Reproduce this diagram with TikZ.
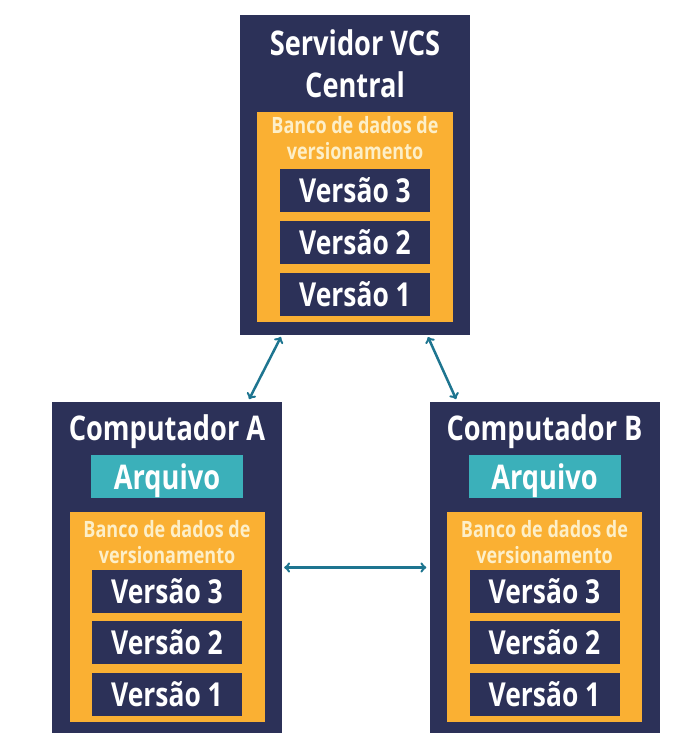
\documentclass[tikz,border=0pt]{standalone}
\usepackage{fontspec}
\setmainfont{Open Sans}[FakeStretch=0.8]
\usetikzlibrary{arrows}
\usetikzlibrary{positioning}
\definecolor{navy}{HTML}{2C3158}
\definecolor{amber}{HTML}{FAB033}
\definecolor{cream}{HTML}{FDEFC8}
\definecolor{arqteal}{HTML}{3BB0BA}
\definecolor{linkblue}{HTML}{1E7590}
\tikzset{machine/.style = {fill=navy, inner sep=0pt, minimum width=230pt}}
\tikzset{store/.style = {fill=amber, inner sep=0pt, minimum width=196pt, minimum height=210pt}}
\tikzset{version/.style = {fill=navy, text=white, inner sep=0pt, text depth=0pt,
                           minimum width=150pt, minimum height=43pt,
                           font=\bfseries\fontsize{33}{36}\selectfont}}
\tikzset{arquivo/.style = {fill=arqteal, text=white, inner sep=0pt, text depth=0pt,
                           minimum width=152pt, minimum height=43pt,
                           font=\bfseries\fontsize{34}{36}\selectfont}}
\tikzset{title/.style = {text=white, align=center, inner sep=0pt,
                         font=\bfseries\fontsize{34}{42}\selectfont}}
\tikzset{storetitle/.style = {text=cream, align=center, inner sep=0pt,
                              font=\bfseries\fontsize{22.5}{26}\selectfont}}
\tikzset{link/.style = {<->, >=to, draw=linkblue, line width=2.5pt,
                        shorten <=2pt, shorten >=3pt}}
\begin{document}
\begin{tikzpicture}[x=1pt, y=-1pt]
    \useasboundingbox (0, 0) rectangle (692, 736);

    \node [machine, minimum height=320pt] (server) at (355, 175) {};
    \node [title] (server-title) at (355, 64) {Servidor VCS\\Central};
    \node [store] (server-db) at (355, 217) {};
    \node [storetitle] (server-dbtitle) at (355, 138) {Banco de dados de\\versionamento};
    \foreach \v/\y in {3/190.5, 2/242.5, 1/294.5} {
      \node [version] (server-v\v) at (355, \y) {Versão \v};
    }

    \foreach \pc/\cx/\tag in {compA/167/A, compB/544.5/B} {
      \node [machine, minimum height=331pt] (\pc) at (\cx, 567.5) {};
      \node [title] (\pc-title) at (\cx, 432) {Computador \tag};
      \node [arquivo] (\pc-file) at (\cx, 476.5) {Arquivo};
      \node [store, minimum width=195pt] (\pc-db) at (\cx, 617) {};
      \node [storetitle] (\pc-dbtitle) at (\cx, 542) {Banco de dados de\\versionamento};
      \foreach \v/\y in {3/591.5, 2/642.5, 1/694.5} {
        \node [version] (\pc-v\v) at (\cx, \y) {Versão \v};
      }
    }

    \draw [link] ([xshift=42pt]server.south west) -- ([xshift=196pt]compA.north west);
    \draw [link] ([xshift=-43pt]server.south east) -- ([xshift=28pt]compB.north west);
    \draw [link] (compA.east) -- (compB.west);
\end{tikzpicture}
\end{document}
